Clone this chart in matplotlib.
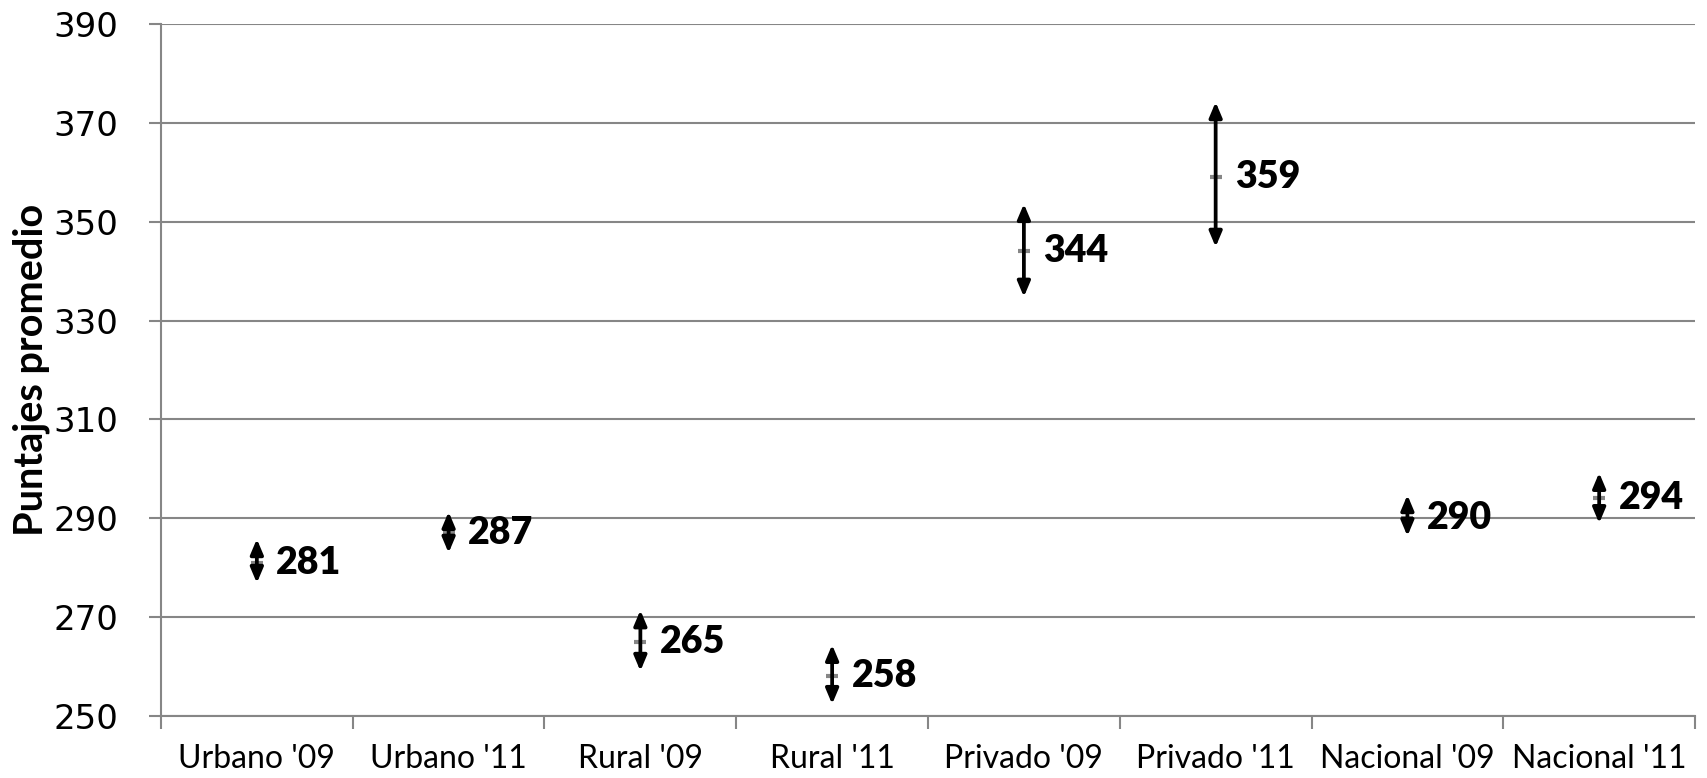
import matplotlib
matplotlib.use("Agg")
import matplotlib.pyplot as plt
import numpy as np

categories = ["Urbano '09", "Urbano '11", "Rural '09", "Rural '11",
              "Privado '09", "Privado '11", "Nacional '09", "Nacional '11"]
means = [281, 287, 265, 258, 344, 359, 290, 294]
lower = [276.9, 283.0, 259.1, 252.4, 334.8, 344.9, 286.4, 289.0]
upper = [285.8, 291.3, 271.4, 264.4, 353.6, 374.2, 294.7, 299.2]
yticks = [250, 270, 290, 310, 330, 350, 370, 390]
ylabel = "Puntajes promedio"

grid_c = "#868686"
fig = plt.figure(figsize=(17.07, 7.78), dpi=100)
ax = fig.add_axes([0.0943, 0.0797, 0.8987, 0.8895])

x = np.arange(len(categories))
ax.set_xlim(-0.5, len(categories) - 0.5)
ax.set_ylim(yticks[0], yticks[-1])

ax.set_yticks(yticks)
ax.yaxis.grid(True, color=grid_c, linewidth=1.5)
ax.set_axisbelow(True)
for s in ["top", "right"]:
    ax.spines[s].set_visible(False)
for s in ["left", "bottom"]:
    ax.spines[s].set_color(grid_c)
    ax.spines[s].set_linewidth(1.5)

ax.set_xticks(x)
ax.set_xticklabels(categories, family="Lato", fontsize=23)
ax.set_xticks(np.arange(len(categories) + 1) - 0.5, minor=True)
ax.tick_params(axis="x", which="major", length=0, pad=20)
ax.tick_params(axis="x", which="minor", length=9, width=1.5, color=grid_c)
ax.tick_params(axis="y", length=9, width=1.5, color=grid_c, pad=22)
for lab in ax.get_yticklabels():
    lab.set_family("DejaVu Sans")
    lab.set_fontsize(24.5)

ax.set_ylabel(ylabel, family="Lato", fontweight="bold", fontsize=28.5, labelpad=2)

for xi, m, lo, hi in zip(x, means, lower, upper):
    ax.plot([xi], [m], marker="_", color=grid_c, markersize=9, markeredgewidth=3, zorder=2)
    ax.annotate("", xy=(xi, hi), xytext=(xi, lo),
                arrowprops=dict(arrowstyle="<|-|>,head_length=0.9,head_width=0.38",
                                color="black", lw=2.7, shrinkA=0, shrinkB=0),
                zorder=3)
    ax.annotate(f"{m}", xy=(xi, m), xytext=(14, 0), textcoords="offset points",
                ha="left", va="center", family="Lato", fontweight="heavy", fontsize=27)

fig.savefig("out.png", dpi=100)
